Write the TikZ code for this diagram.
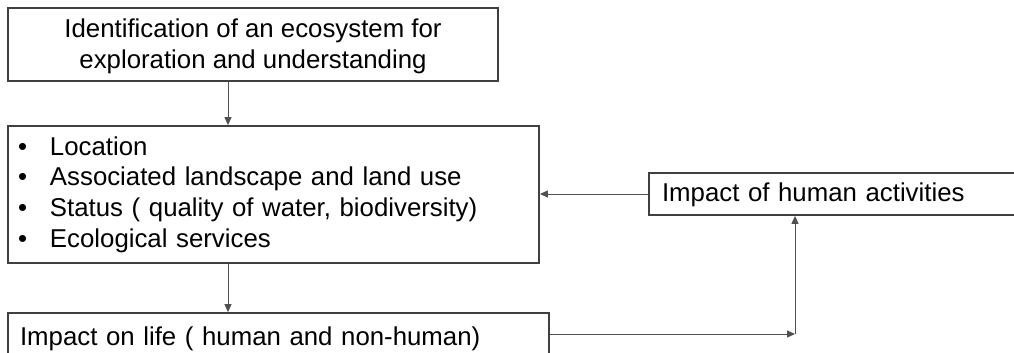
\documentclass[tikz,border=0pt]{standalone}
\usepackage{fontspec}
\setmainfont{Liberation Sans}
\usepackage{tikz}
\usetikzlibrary{arrows.meta}

\begin{document}
\begin{tikzpicture}[x=1pt,y=-1pt,
  box/.style={draw=boxColor,line width=1.8pt,inner ysep=0pt,font=\fontsize{25.8}{30.6}\selectfont},
  link/.style={-{Triangle[length=8pt,width=7pt]},color=linkColor,line width=1pt}]
\definecolor{boxColor}{RGB}{64,64,64}
\definecolor{linkColor}{RGB}{80,80,80}
\useasboundingbox (0,0) rectangle (1014,353);
\clip (0,0) rectangle (1014,353);
\node[box,minimum width=490,minimum height=73,align=center] (ident) at (253,44.5)
  {\raisebox{-2pt}[\height][\depth]{Identification of an ecosystem for}\\
   \raisebox{-2pt}[\height][\depth]{exploration and understanding}};
\node[box,minimum width=531,minimum height=137,inner xsep=10pt,text width=511pt,align=left] (facts) at (273.5,194.5)
  {\makebox[32pt][l]{\textbullet}Location\\
   \makebox[32pt][l]{\textbullet}Associated landscape and land use\\
   \makebox[32pt][l]{\textbullet}Status ( quality of water, biodiversity)\\
   \makebox[32pt][l]{\textbullet}Ecological services};
\node[box,minimum width=541,minimum height=42,inner xsep=12pt,text width=517pt,align=left] (life) at (278.5,334)
  {\raisebox{-5pt}[\height][\depth]{Impact on life ( human and non-human)}};
\node[box,minimum width=381,minimum height=42,inner xsep=13pt,text width=355pt,align=left] (human) at (839.5,194)
  {\raisebox{-1pt}[\height][\depth]{Impact of human activities}};
\coordinate (downline) at (228,0);
\coordinate (turn) at (795,334);
\draw[link] (ident.south -| downline) -- (facts.north -| downline);
\draw[link] (facts.south -| downline) -- (life.north -| downline);
\draw[link] (human.west) -- (facts.east |- human.west);
\draw[link] (life.east) -- (turn);
\draw[link] (turn) -- (human.south -| turn);
\end{tikzpicture}
\end{document}
